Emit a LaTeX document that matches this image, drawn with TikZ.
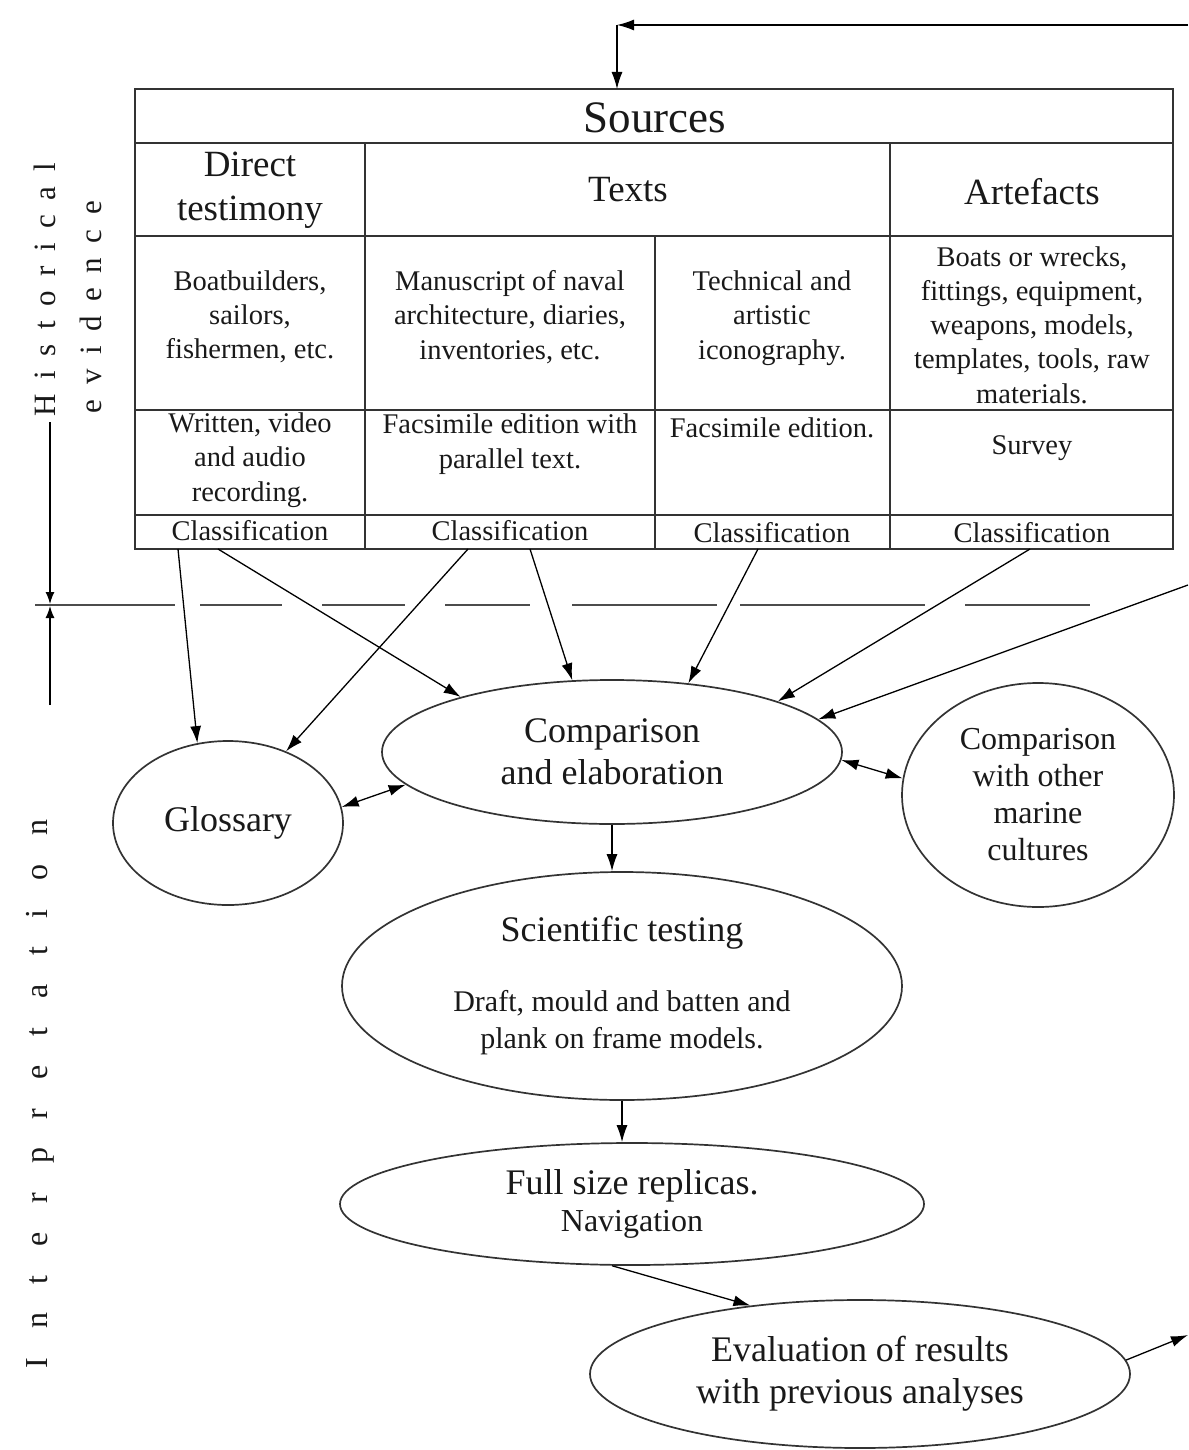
\documentclass[tikz,border=0pt]{standalone}
\usepackage{fontspec}
\setmainfont{Liberation Serif}
\newfontfamily\spacedA[LetterSpace=47]{Liberation Serif}
\newfontfamily\spacedB[LetterSpace=90]{Liberation Serif}
\usetikzlibrary{arrows.meta,shapes.geometric}
\newcommand{\fA}{\fontsize{45}{50}\selectfont}
\newcommand{\fB}{\fontsize{37}{44}\selectfont}
\newcommand{\fC}{\fontsize{28.5}{34.3}\selectfont}
\newcommand{\fD}{\fontsize{30}{37}\selectfont}
\newcommand{\fE}{\fontsize{36}{42}\selectfont}
\newcommand{\fF}{\fontsize{32}{37}\selectfont}
\begin{document}
\begin{tikzpicture}[x=1pt,y=-1pt,
  every node/.style={inner sep=0pt, align=center, text=black!90},
  grid/.style={line width=1.7pt, black!80},
  arr/.style={line width=1.3pt, -{Latex[length=17pt,width=11pt]}},
  dbl/.style={line width=1.3pt, {Latex[length=17pt,width=11pt]}-{Latex[length=17pt,width=11pt]}},
  dim/.style={line width=1.3pt, -{Latex[length=12pt,width=9pt]}},
  ell/.style={draw, ellipse, line width=1.7pt, black!80, text=black!90}]
\useasboundingbox (0,0) rectangle (1188,1450);

% ---- table grid ----
\draw[grid] (135,89) rectangle (1173,549);
\draw[grid] (135,143) -- (1173,143);
\draw[grid] (135,236) -- (1173,236);
\draw[grid] (135,410) -- (1173,410);
\draw[grid] (135,515) -- (1173,515);
\draw[grid] (365,143) -- (365,549);
\draw[grid] (890,143) -- (890,549);
\draw[grid] (655,236) -- (655,549);

% ---- table texts ----
\node[font=\fA] (sources) at (655,118) {Sources};
\node[font=\fB] (direct) at (250,190) {Direct\\testimony};
\node[font=\fB] (texts) at (628,190) {Texts};
\node[font=\fB] (artefacts) at (1032,192) {Artefacts};

\node[font=\fC] (d1) at (250,317) {Boatbuilders,\\sailors,\\fishermen, etc.};
\node[font=\fC] (d2) at (510,317) {Manuscript of naval\\architecture, diaries,\\inventories, etc.};
\node[font=\fC] (d3) at (772,318) {Technical and\\artistic\\iconography.};
\node[font=\fC] (d4) at (1032,325) {Boats or wrecks,\\fittings, equipment,\\weapons, models,\\templates, tools, raw\\materials.};

\node[font=\fC] (r1) at (250,460) {Written, video\\and audio\\recording.};
\node[font=\fC] (r2) at (510,444) {Facsimile edition with\\parallel text.};
\node[font=\fC] (r3) at (772,428) {Facsimile edition.};
\node[font=\fC] (r4) at (1032,448) {Survey};

\node[font=\fC] (c1) at (250,531) {Classification};
\node[font=\fC] (c2) at (510,531) {Classification};
\node[font=\fC] (c3) at (772,533) {Classification};
\node[font=\fC] (c4) at (1032,533) {Classification};

% ---- top feedback arrow ----
\coordinate (topR) at (1188,25);
\coordinate (corner) at (617,25);
\coordinate (srcTop) at (617,89);
\draw[arr] (topR) -- (corner);
\draw[arr] (corner) -- (srcTop);

% ---- side labels ----
\node[font=\fontsize{31}{31}\spacedA, rotate=90] (hist) at (45,290) {Historical};
\node[font=\fontsize{31}{31}\spacedA, rotate=90] (evid) at (91,307) {evidence};
\node[font=\fontsize{32}{32}\spacedB, rotate=90] (interp) at (40,1094) {Interpretation};

% ---- dashed separator ----
\foreach \a/\b in {35/175,200/282,322/405,445/530,572/717,740/925,965/1090}
  \draw[line width=2pt, black!70] (\a,605) -- (\b,605);

% ---- dimension arrows ----
\coordinate (dimTop) at (50,422);
\coordinate (dimMidA) at (50,604);
\coordinate (dimMidB) at (50,606);
\coordinate (dimBot) at (50,705);
\draw[dim] (dimTop) -- (dimMidA);
\draw[dim] (dimBot) -- (dimMidB);

% ---- ellipses ----
\node[ell, minimum width=460pt, minimum height=144pt, font=\fE] (comp) at (612,752) {Comparison\\and elaboration};
\node[ell, minimum width=230pt, minimum height=164pt, font=\fE] (gloss) at (228,823) {\raisebox{-5pt}{Glossary}};
\node[ell, minimum width=272pt, minimum height=224pt, font=\fF, align=center] (other) at (1038,795) {Comparison\\with other\\marine\\cultures};
\node[ell, minimum width=560pt, minimum height=228pt, font=\fD] (sci) at (622,986) {{\fE Scientific testing}\\[33pt]Draft, mould and batten and\\plank on frame models.};
\node[ell, minimum width=584pt, minimum height=122pt, font=\fF] (full) at (632,1204) {{\fE Full size replicas.}\\Navigation};
\node[ell, minimum width=540pt, minimum height=148pt, font=\fE] (eval) at (860,1374) {Evaluation of results\\with previous analyses};

% ---- arrows from sources ----
\coordinate (s1) at (178,549);
\coordinate (s2) at (218,549);
\coordinate (s3) at (468,549);
\coordinate (s4) at (530,549);
\coordinate (s5) at (758,549);
\coordinate (s6) at (1030,549);
\coordinate (s7) at (1188,585);
\draw[arr] (s1) -- (gloss.111);
\draw[arr] (s2) -- (comp.160);
\draw[arr] (s3) -- (gloss.51);
\draw[arr] (s4) -- (comp.119);
\draw[arr] (s5) -- (comp.42);
\draw[arr] (s6) -- (comp.17);
\draw[arr] (s7) -- (comp.9);

\draw[dbl] (gloss.8) -- (comp.189);
\draw[dbl] (comp.358) -- (other.173);

\draw[arr] (comp.south) -- (comp.south |- sci.north);
\draw[arr] (sci.south) -- (sci.south |- full.north);
\draw[arr] (full.252) -- (eval.148);
\coordinate (outR) at (1188,1335);
\draw[arr] (eval.3) -- (outR);
\end{tikzpicture}
\end{document}
